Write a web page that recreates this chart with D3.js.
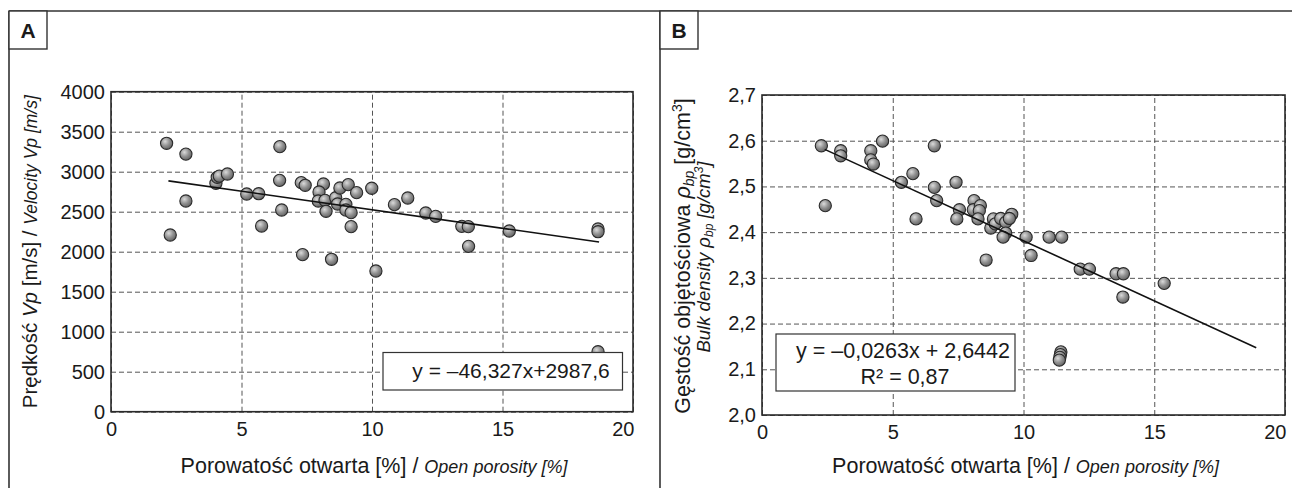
<!DOCTYPE html>
<html>
<head>
<meta charset="utf-8">
<script src="https://cdn.jsdelivr.net/npm/d3@7"></script>
<style>
  body { margin: 0; background: #fff; }
  svg { display: block; font-family: "Liberation Sans", Arial, sans-serif; }
</style>
</head>
<body>
<div id="main"></div>
<script>
// data
const porosityA = [2.13, 2.87, 4.02, 4.07, 4.15, 4.46, 2.87, 2.27, 5.2, 5.66, 6.47, 6.46, 6.54, 5.77, 7.29, 7.44, 7.34,
  8.14, 7.97, 7.94, 8.2, 8.24, 8.61, 8.77, 9.09, 9.41, 8.68, 9.0, 9.0, 9.2, 9.2, 8.45, 9.99, 10.15, 10.86, 11.37,
  12.06, 12.44, 13.44, 13.69, 13.7, 15.26, 18.66, 18.66, 18.66];
const velocityA = [3355, 3220, 2855, 2930, 2945, 2971, 2634, 2209, 2721, 2725, 3313, 2892, 2521, 2321, 2863, 2830, 1963,
  2846, 2746, 2634, 2642, 2505, 2675, 2796, 2838, 2738, 2596, 2592, 2521, 2488, 2313, 1905, 2793, 1759, 2588, 2671,
  2484, 2442, 2317, 2313, 2067, 2259, 2284, 2250, 750];

const porosityB = [2.27, 2.42, 3.01, 3.01, 4.16, 4.16, 4.26, 4.61, 5.33, 5.77, 5.89, 6.59, 6.59, 6.68, 7.42, 7.55, 7.45,
  8.11, 8.08, 8.35, 8.31, 8.26, 8.57, 8.85, 8.75, 8.92, 9.13, 9.32, 9.32, 9.22, 9.55, 9.46, 10.1, 10.29, 10.98, 11.46,
  12.17, 12.52, 13.54, 13.82, 13.8, 15.38, 11.43, 11.41, 11.39, 11.37];
const densityB = [2.589, 2.458, 2.578, 2.567, 2.578, 2.558, 2.549, 2.599, 2.509, 2.528, 2.429, 2.589, 2.498, 2.469, 2.509,
  2.449, 2.429, 2.469, 2.449, 2.458, 2.447, 2.429, 2.339, 2.429, 2.409, 2.418, 2.43, 2.422, 2.398, 2.389, 2.439, 2.43,
  2.389, 2.349, 2.389, 2.389, 2.319, 2.319, 2.309, 2.309, 2.258, 2.288, 2.138, 2.132, 2.126, 2.12];

const xTicks = [0, 5, 10, 15, 20];
const yTicksA = [0, 500, 1000, 1500, 2000, 2500, 3000, 3500, 4000];
const yTicksB = [2.0, 2.1, 2.2, 2.3, 2.4, 2.5, 2.6, 2.7];

// trend lines  y = a*x + b
const trendA = { a: -46.327, b: 2987.6, from: 2.2, to: 18.7 };
const trendB = { a: -0.0263, b: 2.6442, from: 2.4, to: 18.9 };

const width = 1292, height = 488;
const plFormat = d3.formatLocale({ decimal: ",", thousands: " ", grouping: [3], currency: ["", ""] });

const svg = d3.select("#main").append("svg")
  .attr("width", width)
  .attr("height", height);

const defs = svg.append("defs");
const grad = defs.append("radialGradient")
  .attr("id", "ball")
  .attr("cx", "38%").attr("cy", "35%").attr("r", "65%");
grad.append("stop").attr("offset", "0%").attr("stop-color", "#dadada");
grad.append("stop").attr("offset", "55%").attr("stop-color", "#929292");
grad.append("stop").attr("offset", "100%").attr("stop-color", "#666");

// panel frame
const frame = svg.append("g").attr("stroke", "#333").attr("stroke-width", 1.6).attr("fill", "none");
frame.append("line").attr("x1", 9).attr("x2", width).attr("y1", 11).attr("y2", 11);
frame.append("line").attr("x1", 9).attr("x2", 9).attr("y1", 11).attr("y2", height);
frame.append("line").attr("x1", 660).attr("x2", 660).attr("y1", 11).attr("y2", height);

function panelLetter(x, letter) {
  svg.append("rect")
    .attr("x", x).attr("y", 11).attr("width", 38).attr("height", 38)
    .attr("fill", "#fff").attr("stroke", "#333").attr("stroke-width", 1.4);
  svg.append("text")
    .attr("x", x + 19).attr("y", 38)
    .attr("text-anchor", "middle")
    .attr("font-size", 21).attr("font-weight", "bold").attr("fill", "#1a1a1a")
    .text(letter);
}

function drawPanel(cfg) {
  const x = d3.scaleLinear().domain([0, 20]).range([cfg.left, cfg.right]);
  const y = d3.scaleLinear().domain(cfg.yDomain).range([cfg.bottom, cfg.top]);
  const g = svg.append("g");

  // grid + y labels
  const yAxis = g.append("g")
    .attr("transform", `translate(${cfg.left},0)`)
    .call(d3.axisLeft(y).tickValues(cfg.yTicks).tickSize(-(cfg.right - cfg.left)).tickPadding(6).tickFormat(cfg.yFormat));
  yAxis.select(".domain").remove();
  yAxis.selectAll(".tick line")
    .attr("stroke", "#555").attr("stroke-dasharray", "5,3").attr("stroke-width", 1);
  yAxis.selectAll(".tick text")
    .attr("font-size", 20).attr("fill", "#1a1a1a").attr("font-family", null);

  const xAxis = g.append("g")
    .attr("transform", `translate(0,${cfg.bottom})`)
    .call(d3.axisBottom(x).tickValues(xTicks).tickSize(-(cfg.bottom - cfg.top)).tickPadding(10));
  xAxis.select(".domain").remove();
  xAxis.selectAll(".tick line")
    .attr("stroke", "#555").attr("stroke-dasharray", "5,3").attr("stroke-width", 1);
  xAxis.selectAll(".tick text")
    .attr("font-size", 20).attr("fill", "#1a1a1a").attr("font-family", null)
    .attr("text-anchor", (d) => d === 20 ? "end" : "middle")
    .attr("x", (d) => d === 20 ? 1 : 0);

  // points
  g.append("g")
    .selectAll("circle")
    .data(d3.zip(cfg.xs, cfg.ys))
    .enter()
    .append("circle")
    .attr("cx", (d) => x(d[0]))
    .attr("cy", (d) => y(d[1]))
    .attr("r", 6.1)
    .attr("fill", "url(#ball)")
    .attr("stroke", "#2a2a2a")
    .attr("stroke-width", 1.1);

  // trend line
  const t = cfg.trend;
  g.append("line")
    .attr("x1", x(t.from)).attr("y1", y(t.a * t.from + t.b))
    .attr("x2", x(t.to)).attr("y2", y(t.a * t.to + t.b))
    .attr("stroke", "#111").attr("stroke-width", 1.6);

  // plot frame
  g.append("rect")
    .attr("x", cfg.left).attr("y", cfg.top)
    .attr("width", cfg.right - cfg.left).attr("height", cfg.bottom - cfg.top)
    .attr("fill", "none").attr("stroke", "#2a2a2a").attr("stroke-width", 1.6);

  // x title
  const xt = g.append("text")
    .attr("x", (cfg.left + cfg.right) / 2 + 2).attr("y", 473)
    .attr("text-anchor", "middle").attr("fill", "#1a1a1a").attr("font-size", 21.5);
  xt.append("tspan").text("Porowatość otwarta [%] / ");
  xt.append("tspan").attr("font-style", "italic").attr("font-size", 18).text("Open porosity [%]");

  return { x, y, g };
}

// ---------- panel A ----------
const A = drawPanel({
  left: 111, right: 633, top: 91.7, bottom: 411.7,
  yDomain: [0, 4000], yTicks: yTicksA, yFormat: d3.format("d"),
  xs: porosityA, ys: velocityA, trend: trendA
});

const ytA = svg.append("text")
  .attr("transform", `translate(37,${(91.7 + 411.7) / 2}) rotate(-90)`)
  .attr("text-anchor", "middle").attr("fill", "#1a1a1a").attr("font-size", 20.5);
ytA.append("tspan").text("Prędkość ");
ytA.append("tspan").attr("font-style", "italic").text("Vp");
ytA.append("tspan").text(" [m/s] / ");
ytA.append("tspan").attr("font-style", "italic").attr("font-size", 17.5).text("Velocity Vp [m/s]");

svg.append("rect")
  .attr("x", 383).attr("y", 352.5).attr("width", 239.5).attr("height", 37.5)
  .attr("fill", "#fff").attr("stroke", "#333").attr("stroke-width", 1.2);
svg.append("text")
  .attr("x", 511).attr("y", 378)
  .attr("text-anchor", "middle").attr("font-size", 21).attr("fill", "#1a1a1a")
  .text("y = –46,327x+2987,6");

// ---------- panel B ----------
const B = drawPanel({
  left: 762, right: 1285, top: 95, bottom: 415,
  yDomain: [2.0, 2.7], yTicks: yTicksB, yFormat: plFormat.format(".1f"),
  xs: porosityB, ys: densityB, trend: trendB
});

const ytB1 = svg.append("text")
  .attr("transform", `translate(690,256) rotate(-90)`)
  .attr("text-anchor", "middle").attr("fill", "#1a1a1a").attr("font-size", 21.5);
ytB1.append("tspan").text("Gęstość objętościowa ");
ytB1.append("tspan").attr("font-style", "italic").text("ρ");
ytB1.append("tspan").attr("font-style", "italic").attr("font-size", 14).attr("dy", 4).text("bp");
ytB1.append("tspan").attr("dy", -4).text(" [g/cm");
ytB1.append("tspan").attr("font-size", 14).attr("dy", -8).text("3");
ytB1.append("tspan").attr("dy", 8).text("]");

const ytB2 = svg.append("text")
  .attr("transform", `translate(710,257) rotate(-90)`)
  .attr("text-anchor", "middle").attr("fill", "#1a1a1a").attr("font-size", 18.5)
  .attr("font-style", "italic");
ytB2.append("tspan").text("Bulk density ρ");
ytB2.append("tspan").attr("font-size", 12).attr("dy", 3).text("bp");
ytB2.append("tspan").attr("dy", -3).text(" [g/cm");
ytB2.append("tspan").attr("font-size", 12).attr("dy", -7).text("3");
ytB2.append("tspan").attr("dy", 7).text("]");

svg.append("rect")
  .attr("x", 776).attr("y", 334).attr("width", 239).attr("height", 57)
  .attr("fill", "#fff").attr("stroke", "#333").attr("stroke-width", 1.2);
svg.append("text")
  .attr("x", 903).attr("y", 358)
  .attr("text-anchor", "middle").attr("font-size", 21.5).attr("fill", "#1a1a1a")
  .text("y = –0,0263x + 2,6442");
svg.append("text")
  .attr("x", 905).attr("y", 384)
  .attr("text-anchor", "middle").attr("font-size", 21.5).attr("fill", "#1a1a1a")
  .text("R² = 0,87");

panelLetter(9, "A");
panelLetter(660, "B");
</script>
</body>
</html>
